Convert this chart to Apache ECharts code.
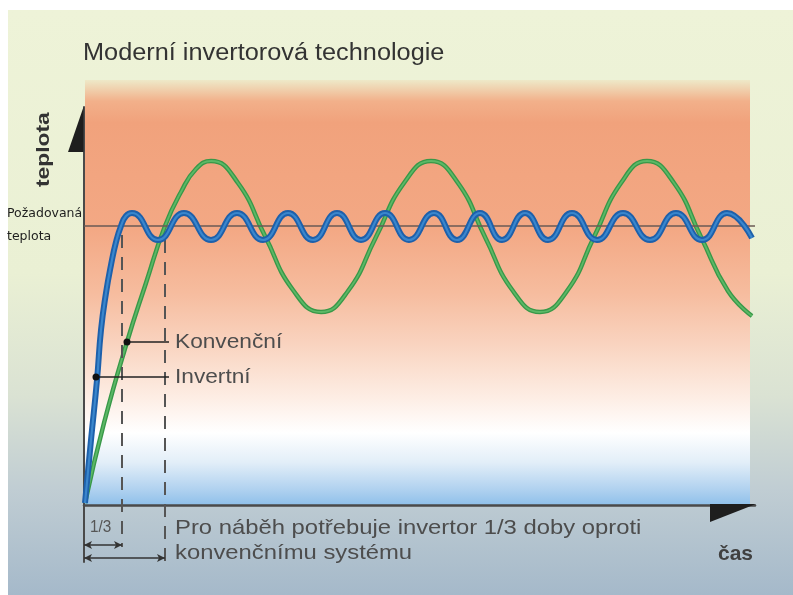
<!DOCTYPE html>
<html><head><meta charset="utf-8">
<script src="https://cdn.jsdelivr.net/npm/echarts@6/dist/echarts.min.js"></script>
<style>html,body{margin:0;padding:0;background:#fff}#c{width:793px;height:595px}</style>
</head><body><div id="c"></div>
<script>
// ---- data (time units on x, temperature units on y) ----
const setpoint = 279;
const invertni = [[1,2],[7,65],[13,125],[17,175],[22,212],[27,240],[32,263],[37,279],[42,289],
  [48,292],[74,265],[100,292],[127,265],[153,292],[179,265],[204,292],[229,265],[253,292],[277,265],
  [301,292],[325,265],[350,292],[373,265],[396,292],[418,265],[441,292],[464,265],[488,292],[513,265],
  [539,292],[566,265],[592,292],[618,265],[643,292],[668,267]];
const konvencni = [[1,2],[20,82],[43,163],[62,222],[81,279],[97,313],[112,336],[127,344],
  [154,322],[181,269],[209,215],[237,193],[264,214],[292,268],[320,322],[347,344],
  [374,322],[401,268],[429,214],[456,193],[483,214],[510,268],[537,322],[563,344],
  [590,322],[617,268],[644,214],[668,189]];
const konvDot = [43,163];
const invDot = [12,128];
const leaderEndX = 85;
const tInv = 38;      // inverter reaches setpoint
const tKonv = 81;     // conventional reaches setpoint
const labels = {
  title: 'Moderní invertorová technologie',
  yName: 'teplota', xName: 'čas',
  setpoint: ['Požadovaná', 'teplota'],
  konv: 'Konvenční', inv: 'Invertní', third: '1/3',
  note: ['Pro náběh potřebuje invertor 1/3 doby oproti', 'konvenčnímu systému']
};

const chart = echarts.init(document.getElementById('c'), null, {renderer:'canvas'});
const F = 'Liberation Sans, Arial, sans-serif';
const txt = (t, x, y, o) => Object.assign({type:'text', x, y, z: 50, silent:true,
  style: Object.assign({text:t, x:0, y:0, fill:'#4d4d4d', fontFamily:F, fontSize:21, textVerticalAlign:'middle'}, o && o.style || {})},
  o ? {scaleX:o.scaleX||1, rotation:o.rotation||0} : {});

const option = {
  animation: false,
  backgroundColor: '#ffffff',
  grid: {left:84, top:107, right:38, bottom:33, show:false},
  xAxis: {type:'value', min:0, max:671, axisLine:{show:true, onZero:true, lineStyle:{color:'#4a4a4a', width:2.5}},
    axisTick:{show:false}, axisLabel:{show:false}, splitLine:{show:false}},
  yAxis: {type:'value', min:-57, max:398, axisLine:{show:true, lineStyle:{color:'#4a4a4a', width:2}},
    axisTick:{show:false}, axisLabel:{show:false}, splitLine:{show:false}},
  graphic: [
    {type:'rect', z:-10, shape:{x:8,y:10,width:785,height:585}, style:{fill:
      new echarts.graphic.LinearGradient(0,0,0,1,[
        {offset:0,color:'#eef3d8'},{offset:0.45,color:'#eaf0d4'},{offset:0.66,color:'#dae2d3'},
        {offset:0.82,color:'#c0cdd3'},{offset:1,color:'#a5b9ca'}])}},
    {type:'rect', z:-5, shape:{x:85,y:80,width:665,height:425}, style:{fill:
      new echarts.graphic.LinearGradient(0,0,0,1,[
        {offset:0,color:'#eee9c8'},{offset:0.05,color:'#f2b08a'},{offset:0.1,color:'#f1a27c'},
        {offset:0.35,color:'#f3a884'},{offset:0.5,color:'#f6bc9e'},{offset:0.62,color:'#f9d3bf'},
        {offset:0.75,color:'#fdeee5'},{offset:0.83,color:'#ffffff'},{offset:0.9,color:'#e2eef8'},
        {offset:0.96,color:'#b3d3f0'},{offset:1,color:'#8fc0ea'}])}},
    {type:'polygon', z:40, shape:{points:[[83.5,107],[83.5,152],[68,152]]}, style:{fill:'#1e1e1e'}},
    {type:'polygon', z:40, shape:{points:[[710,504],[756,504],[710,522]]}, style:{fill:'#1e1e1e'}},
    txt(labels.title, 83, 54, {style:{fontSize:23, fill:'#333333'}, scaleX:1.1}),
    txt(labels.yName, 44, 187, {style:{fontSize:19, fontWeight:'bold', fill:'#333333'}, scaleX:1.2, rotation:Math.PI/2}),
    txt(labels.setpoint[0], 7, 214, {style:{fontSize:12.5, fontFamily:'DejaVu Sans', fill:'#1e1e1e'}}),
    txt(labels.setpoint[1], 7, 237, {style:{fontSize:12.5, fontFamily:'DejaVu Sans', fill:'#1e1e1e'}}),
    txt(labels.konv, 175, 342, {style:{fontSize:21, fill:'#4d4d4d'}, scaleX:1.08}),
    txt(labels.inv, 175, 377, {style:{fontSize:21, fill:'#4d4d4d'}, scaleX:1.08}),
    txt(labels.third, 90, 527, {style:{fontSize:17, fill:'#555555'}, scaleX:0.9}),
    txt(labels.note[0], 175, 528, {style:{fontSize:21, fill:'#4d4d4d'}, scaleX:1.135}),
    txt(labels.note[1], 175, 553, {style:{fontSize:21, fill:'#4d4d4d'}, scaleX:1.135}),
    txt(labels.xName, 718, 554, {style:{fontSize:21, fontWeight:'bold', fill:'#404040'}})
  ],
  series: [
    {type:'line', data:[], z:2, silent:true,
      markLine:{silent:true, symbol:['none','none'], label:{show:false},
        lineStyle:{color:'#6a5a55', width:1.5, type:'solid'},
        data:[{yAxis:setpoint}]}},
    {type:'line', data:[], z:2, silent:true,
      markLine:{silent:true, symbol:['none','none'], label:{show:false},
        lineStyle:{color:'#555555', width:2, type:[13,9]},
        data:[[{coord:[tInv, 270]},{coord:[tInv,-42]}],[{coord:[tKonv,265]},{coord:[tKonv,-56]}]]}},
    {type:'line', data:[], z:2, silent:true,
      markLine:{silent:true, symbol:['arrow','arrow'], symbolSize:[6,8], label:{show:false},
        lineStyle:{color:'#333333', width:1.5, type:'solid'},
        data:[[{coord:[0,-40]},{coord:[tInv,-40]}],[{coord:[0,-53]},{coord:[tKonv,-53]}]]}},
    {name:'Konvenční', type:'line', data:konvencni, smooth:0.5, symbol:'none', z:3,
      lineStyle:{color:'#389848', width:4.5}},
    {type:'line', data:konvencni, smooth:0.5, symbol:'none', z:4, lineStyle:{color:'#5cb866', width:1.8}},
    {name:'Invertní', type:'line', data:invertni, smooth:0.5, symbol:'none', z:5,
      lineStyle:{color:'#1d60ab', width:6}},
    {type:'line', data:invertni, smooth:0.5, symbol:'none', z:6, lineStyle:{color:'#3a86cc', width:2.2}},
    {type:'line', z:7, lineStyle:{color:'#222222', width:1.5}, itemStyle:{color:'#111111'},
      data:[{value:konvDot, symbol:'circle', symbolSize:7},{value:[leaderEndX, konvDot[1]], symbol:'none'}]},
    {type:'line', z:7, lineStyle:{color:'#222222', width:1.5}, itemStyle:{color:'#111111'},
      data:[{value:invDot, symbol:'circle', symbolSize:7},{value:[leaderEndX, invDot[1]], symbol:'none'}]}
  ]
};
chart.setOption(option);
</script></body></html>
